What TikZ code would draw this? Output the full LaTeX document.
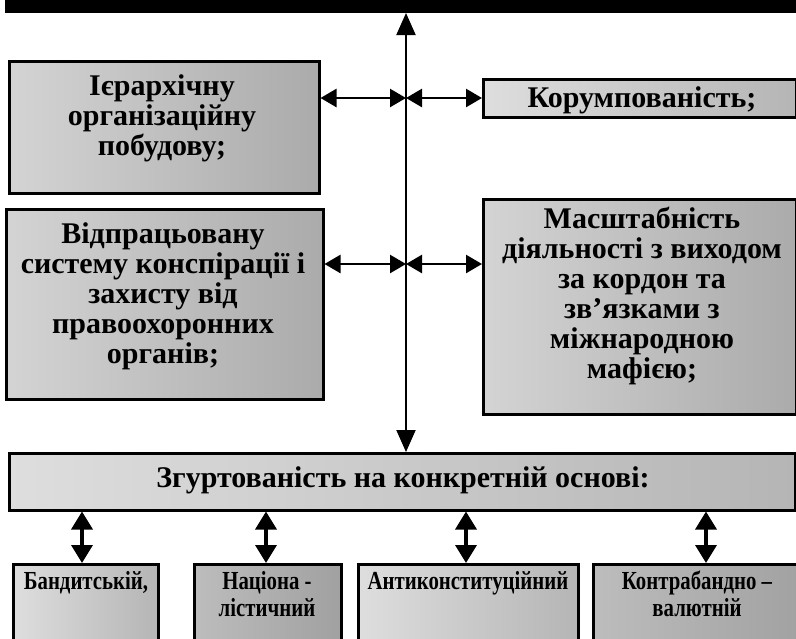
\documentclass[tikz,border=0pt]{standalone}
\usepackage{fontspec}
\setmainfont{Liberation Serif}
\newfontfamily\narrowserif[FakeStretch=0.8]{Liberation Serif}
\usetikzlibrary{arrows.meta}
\begin{document}
\begin{tikzpicture}[x=1pt,y=-1pt,
  box/.style={draw=black,line width=2.5pt,left color=gray!34,right color=gray!66,inner sep=0pt,anchor=north west},
  darkbox/.style={box,left color=gray!52,right color=gray!74},
  lightbox/.style={box,left color=gray!26,right color=gray!58},
  txt/.style={font=\bfseries\fontsize{30}{30}\selectfont,align=center,inner sep=0pt,anchor=north},
  stxt/.style={font=\narrowserif\bfseries\fontsize{26}{27}\selectfont,align=center,inner sep=0pt,anchor=north},
  con/.style={line width=2.5pt,{Triangle[length=16pt,width=18pt]}-{Triangle[length=16pt,width=18pt]}},
  vcon/.style={line width=3.5pt,{Triangle[length=18pt,width=21pt]}-{Triangle[length=18pt,width=21pt]}}
]
\useasboundingbox (0,0) rectangle (796,638);
\clip (0,0) rectangle (796,638);
\fill[white] (0,0) rectangle (796,638);
% top box (cut off)
\node[draw=black,fill=black,line width=2pt,inner sep=0pt,anchor=north west,minimum width=791pt,minimum height=41pt] (top) at (5,-30) {};
% side boxes
\node[box,minimum width=310pt,minimum height=132pt] (hier) at (8,60) {};
\node[lightbox,minimum width=313pt,minimum height=38pt] (kor) at (482,78) {};
\node[box,minimum width=317pt,minimum height=190pt] (vidp) at (5,208) {};
\node[box,minimum width=313pt,minimum height=215pt] (masht) at (482,198) {};
\node[lightbox,minimum width=786pt,minimum height=57pt] (zg) at (8,452) {};
% bottom boxes
\node[lightbox,minimum width=145pt,minimum height=90pt] (b1) at (12,563) {};
\node[darkbox,minimum width=147pt,minimum height=90pt] (b2) at (193,563) {};
\node[lightbox,minimum width=220pt,minimum height=90pt] (b3) at (357,563) {};
\node[darkbox,minimum width=215pt,minimum height=90pt] (b4) at (592,563) {};
% texts
\node[txt] (t1) at (162,74) {Ієрархічну\\організаційну\\побудову;};
\node[txt,anchor=base] (t2) at (642,107) {Корумпованість;};
\node[txt] (t3) at (163,222) {Відпрацьовану\\систему конспірації і\\захисту від\\правоохоронних\\органів;};
\node[txt] (t4) at (642,207) {Масштабність\\діяльності з виходом\\за кордон та\\зв’язками з\\міжнародною\\мафією;};
\node[txt,anchor=base] (t5) at (403,487) {Згуртованість на конкретній основі:};
\node[stxt] (t6) at (86,571) {Бандитській,};
\node[stxt] (t7) at (267,571) {Націона -\\лістичний};
\node[stxt] (t8) at (468,571) {Антиконституційний};
\node[stxt] (t9) at (697,571) {Контрабандно –\\валютній};
% spine
\coordinate (sp) at (406,300);
\draw[line width=2pt,{Triangle[length=22pt,width=19pt]}-{Triangle[length=22pt,width=19pt]}] (top.south -| sp) -- (zg.north -| sp);
\coordinate (r1) at (406,98);
\coordinate (r2) at (406,264);
\draw[con] (hier.east |- r1) -- (r1);
\draw[con] (r1) -- (kor.west |- r1);
\draw[con] (vidp.east |- r2) -- (r2);
\draw[con] (r2) -- (masht.west |- r2);
% lower connectors
\draw[vcon] (zg.south -| 82,0) -- (b1.north -| 82,0);
\draw[vcon] (zg.south -| 266,0) -- (b2.north -| 266,0);
\draw[vcon] (zg.south -| 466,0) -- (b3.north -| 466,0);
\draw[vcon] (zg.south -| 706,0) -- (b4.north -| 706,0);
\end{tikzpicture}
\end{document}
